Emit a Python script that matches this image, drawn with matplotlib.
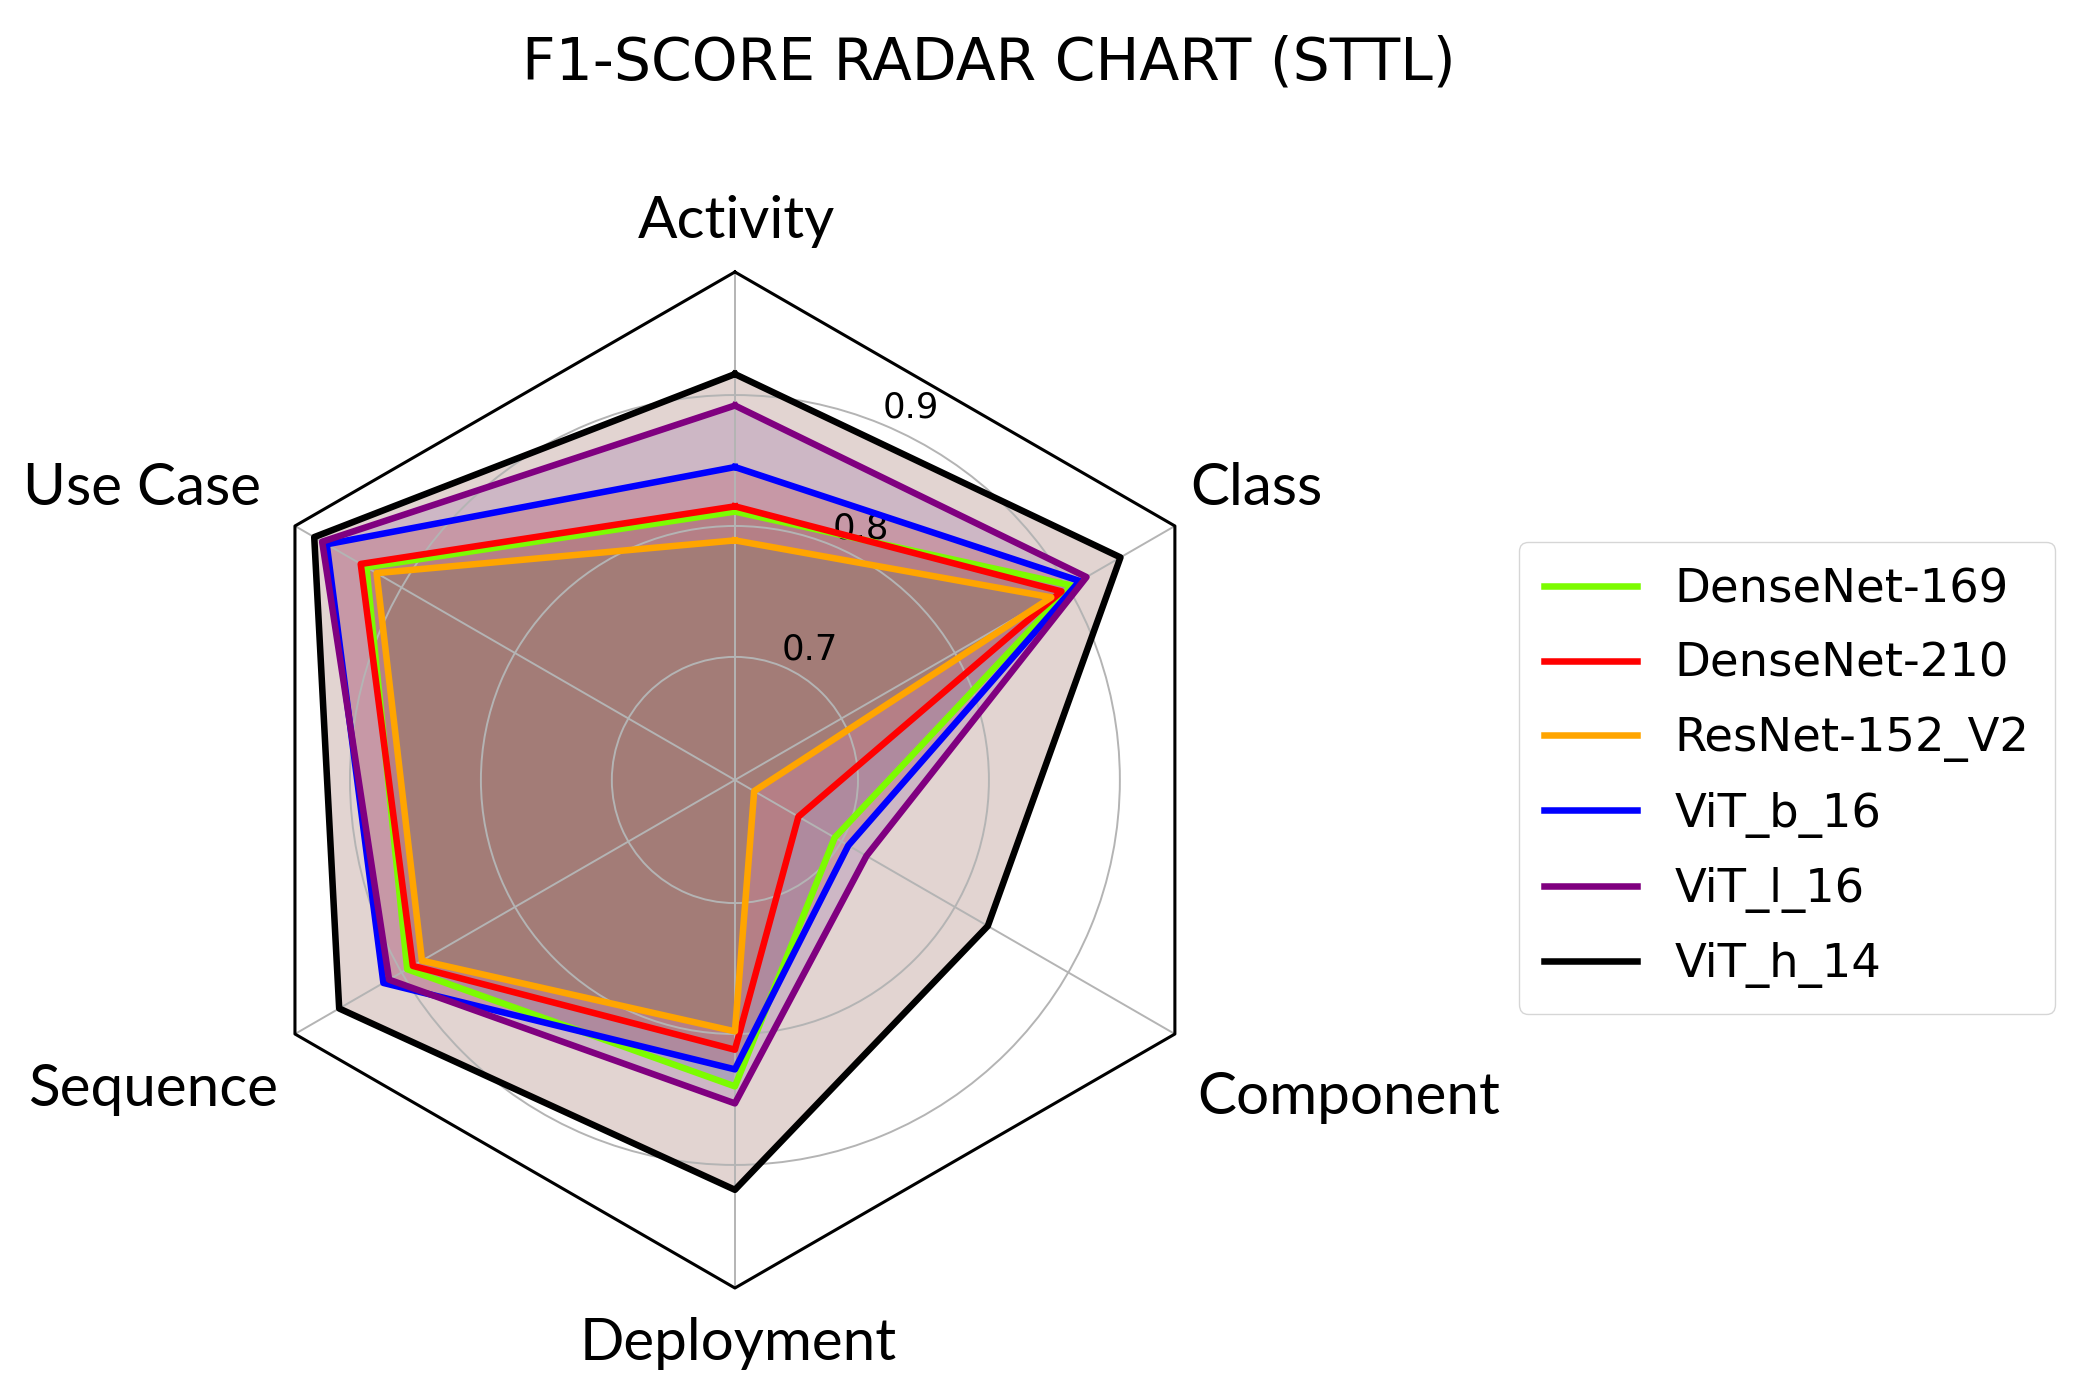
import numpy as np
import matplotlib.pyplot as plt

categories = ["Activity", "Class", "Component", "Deployment", "Sequence", "Use Case"]
models = ["DenseNet-169", "DenseNet-210", "ResNet-152_V2", "ViT_b_16", "ViT_l_16", "ViT_h_14"]

densenet_169 = [0.811, 0.903, 0.694, 0.840, 0.895, 0.931]
densenet_210 = [0.815, 0.894, 0.662, 0.812, 0.890, 0.936]
resnet_152_v2 = [0.789, 0.885, 0.623, 0.798, 0.882, 0.922]
vit_b_16 = [0.845, 0.910, 0.706, 0.827, 0.916, 0.966]
vit_l_16 = [0.892, 0.916, 0.722, 0.853, 0.911, 0.970]
vit_h_14 = [0.916, 0.946, 0.829, 0.919, 0.955, 0.977]
scores = [densenet_169, densenet_210, resnet_152_v2, vit_b_16, vit_l_16, vit_h_14]

r_ticks = [0.7, 0.8, 0.9]
r_min, r_max = 0.606, 0.994

line_colors = ["lawngreen", "red", "orange", "blue", "purple", "black"]
fill_colors = ["tab:blue", "tab:orange", "tab:green", "tab:red", "tab:purple", "tab:brown"]

# label placement relative to the hexagon corners (pixels), and alignment
label_offsets = [(2, 34), (15, 21), (22, -80), (3, -72), (-17, -72), (-34, 21)]
label_ha = ["center", "left", "left", "center", "right", "right"]

fig = plt.figure(figsize=(20.74, 13.89), dpi=100)
ax = fig.add_axes([0.1094, 0.0727, 0.4899, 0.7315], polar=True)
ax.set_theta_offset(np.pi / 2)
ax.set_theta_direction(-1)

angles = np.linspace(0, 2 * np.pi, len(categories), endpoint=False)
closed = np.append(angles, angles[0])

for name, vals, lc, fc in zip(models, scores, line_colors, fill_colors):
    v = vals + vals[:1]
    ax.plot(closed, v, color=lc, linewidth=4.7, label=name)
    ax.fill(closed, v, color=fc, alpha=0.25)

ax.set_ylim(r_min, r_max)
ax.set_yticks(r_ticks)
ax.set_yticklabels([str(t) for t in r_ticks], fontsize=25.5)
ax.set_xticks(angles)
ax.set_xticklabels([])
ax.grid(color="#b4b4b4", linewidth=1.4)
ax.spines["polar"].set_visible(False)

# hexagon frame
ax.plot(closed, [r_max] * len(closed), color="black", linewidth=2.2, clip_on=False)

for ang, cat, (dx, dy), ha in zip(angles, categories, label_offsets, label_ha):
    ax.annotate(cat, xy=(ang, r_max), xytext=(dx * 0.72, dy * 0.72),
                textcoords="offset points", ha=ha, va="baseline",
                fontsize=42, family="Lato", annotation_clip=False)

fig.text(0.4769, 0.943, "F1-SCORE RADAR CHART (STTL)", ha="center", va="baseline", fontsize=42)

ax.legend(loc="upper left", bbox_to_anchor=(0.7322, 0.6098), bbox_transform=fig.transFigure,
          borderaxespad=0, fontsize=33.5, labelspacing=0.63, borderpad=0.55)

fig.savefig("out.png", dpi=100)
